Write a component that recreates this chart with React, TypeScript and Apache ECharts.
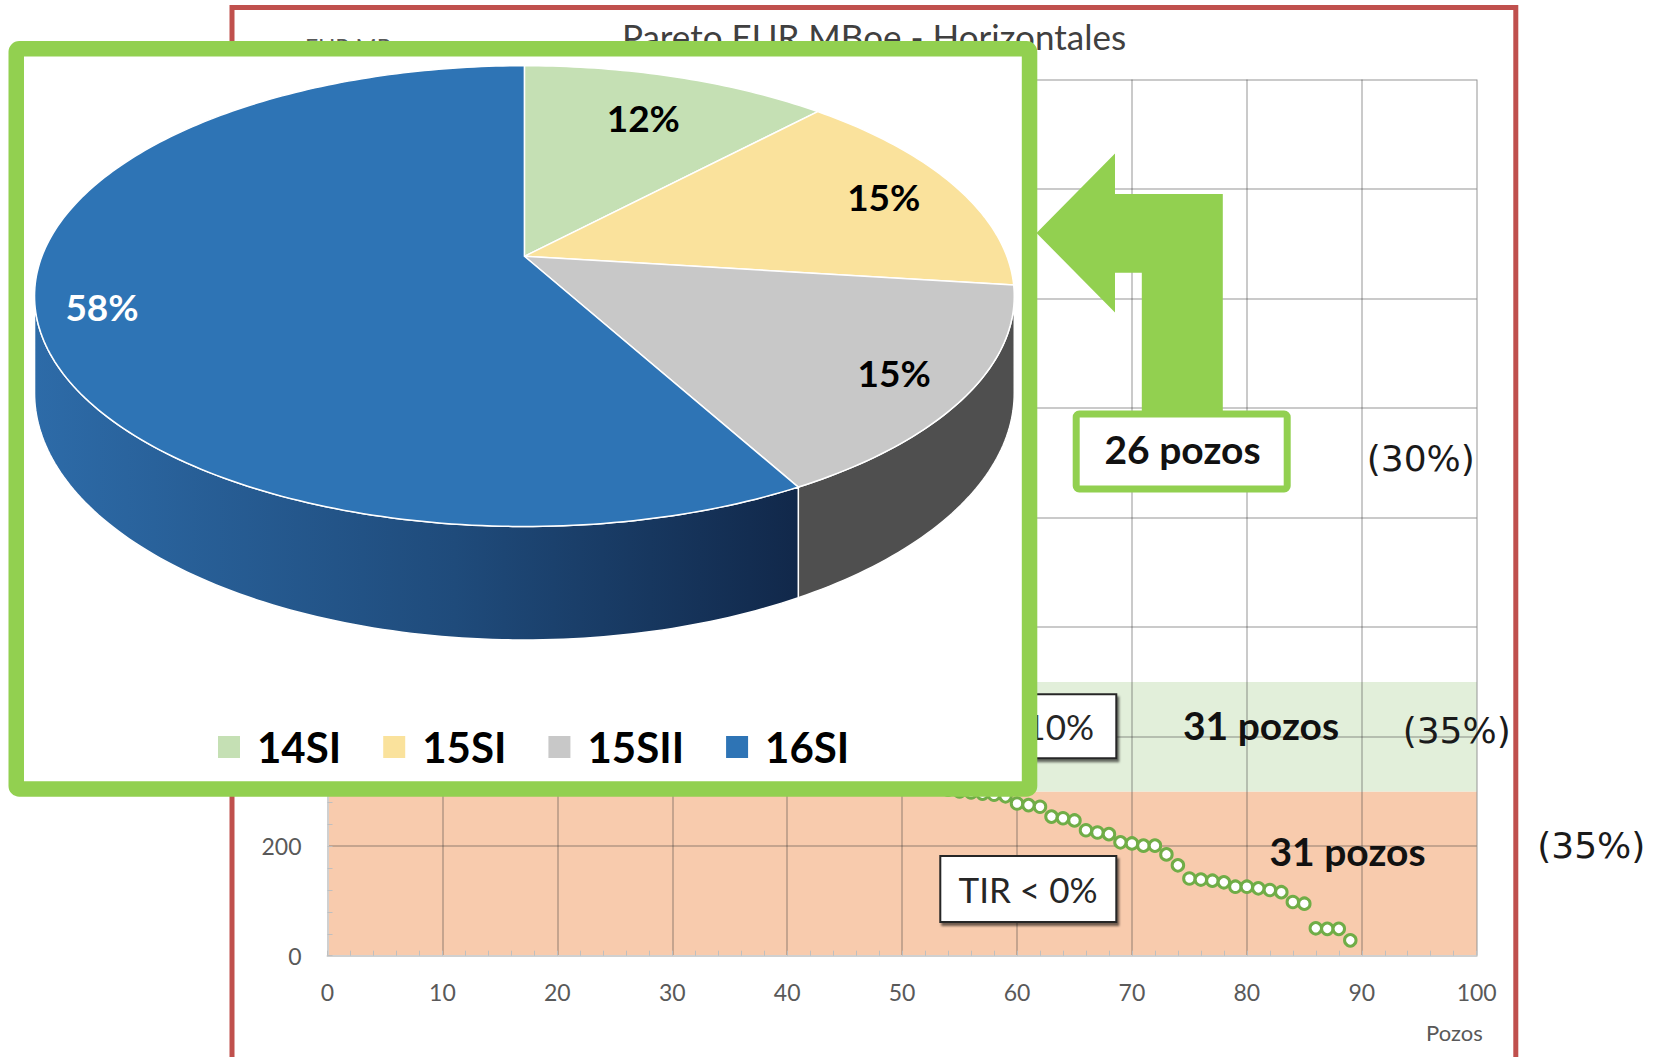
import React, { useEffect, useRef } from "react";
import * as echarts from "echarts";

// ---------- texts ----------
const chartTitle = "Pareto EUR MBoe - Horizontales";
const yAxisTitle = "EUR MBoe";
const xAxisTitle = "Pozos";

// ---------- axes ----------
const xMin = 0;
const xMax = 100;
const xInterval = 10;
const yMin = 0;
const yMax = 1600;
const yInterval = 200;
// y tick labels left uncovered by the pie panel in the picture
const yLabelsShown = [0, 200];

// ---------- Pareto data: EUR (MBoe) per well, ranked 1..89 ----------
const eurMBoe = [
  1480, 1330, 1220, 1150, 1085, 1030, 975, 930, 890, 855,
  820, 790, 765, 742, 720, 700, 680, 662, 645, 628,
  600, 585, 570, 556, 540, 522, 496, 488, 480, 472,
  464, 456, 448, 440, 432, 424, 416, 408, 400, 392,
  385, 378, 371, 364, 357, 350, 343, 337, 331, 325,
  319, 313, 308, 303, 300, 298, 296, 294, 291, 278,
  275, 272, 254, 251, 247, 229, 225, 222, 207, 205,
  201, 201, 185, 165, 141, 139, 137, 134, 126, 126,
  123, 120, 116, 98, 95, 50, 49, 49, 28,
];

// ---------- TIR bands (EUR ranges) ----------
const bandRanges = [
  [0, 300],
  [300, 500],
];
const bandColors = ["#F8CBAD", "#E2EFDA"];

// ---------- pie ----------
const pieCategories = ["14SI", "15SI", "15SII", "16SI"];
const pieShares = [12, 15, 15, 58];
const pieColors = ["#C5E0B4", "#FAE29C", "#C8C8C8", "#2E74B5"];
const pieWallColors = [["#9BBF86", "#9BBF86", "#9BBF86"], ["#C9B46E", "#C9B46E", "#C9B46E"], ["#4F4F4F", "#4F4F4F", "#4F4F4F"], ["#2D6BA8", "#1F4B7B", "#11284A"]];
const pieLabelColors = ["#000000", "#000000", "#000000", "#FFFFFF"];
const pieLabelRadius = [0.75, 0.83, 0.85, 0.87];

// ---------- annotations ----------
const groupCounts = ["26 pozos", "31 pozos", "31 pozos"];
const groupShares = ["(30%)", "(35%)", "(35%)"];
const tirLabels = ["TIR < 10%", "TIR < 0%"];

// ---------- pie geometry (perspective ellipse) ----------
const PIE = { cx: 524.4, cy: 256.3, rx: 482.5, ry: 223.5, k: 0.1727, depth: 93.9 };

function pieProj(t: number, r: number, down: number): number[] {
  const u = r * Math.sin(t);
  const w = r * Math.cos(t);
  const s = 1 / (1 + PIE.k * w);
  return [PIE.cx + PIE.rx * u * s, PIE.cy - PIE.ry * w * s + down * s];
}

function arcPts(a0: number, a1: number, down: number): number[][] {
  const n = Math.max(2, Math.ceil(((a1 - a0) * 180) / Math.PI));
  const pts: number[][] = [];
  for (let j = 0; j <= n; j++) {
    const t = a0 + ((a1 - a0) * j) / n;
    pts.push(pieProj(t, 1, down));
  }
  return pts;
}

const FONT_C = "Lato, 'Open Sans', sans-serif";
const FONT_G = "'DejaVu Sans', sans-serif";

function makePieSeries(i: number) {
  return {
    type: "custom",
    name: pieCategories[i],
    coordinateSystem: "none",
    z: 110,
    silent: true,
    itemStyle: { color: pieColors[i] },
    data: [pieShares[i]],
    renderItem: (params: any, api: any) => {
      const total = pieShares.reduce((a, b) => a + b, 0);
      let before = 0;
      for (let j = 0; j < i; j++) before += pieShares[j];
      const v = api.value(0);
      const a0 = (before / total) * Math.PI * 2;
      const a1 = ((before + v) / total) * Math.PI * 2;
      const children: any[] = [];
      const tR = Math.acos(-PIE.k);
      const tL = Math.PI * 2 - tR;
      const s = Math.max(a0, tR);
      const e = Math.min(a1, tL);
      if (s < e) {
        const top = arcPts(s, e, 0);
        const bot = arcPts(s, e, PIE.depth).reverse();
        const wc = pieWallColors[i];
        children.push({
          type: "polygon",
          z2: 1,
          shape: { points: top.concat(bot) },
          style: {
            fill: new echarts.graphic.LinearGradient(0, 0, 1, 0, [
              { offset: 0, color: wc[0] },
              { offset: 0.55, color: wc[1] },
              { offset: 1, color: wc[2] },
            ]),
            stroke: "#FFFFFF",
            lineWidth: 1.5,
          },
        });
      }
      children.push({
        type: "polygon",
        z2: 5,
        shape: { points: [[PIE.cx, PIE.cy]].concat(arcPts(a0, a1, 0)) },
        style: { fill: pieColors[i], stroke: "#FFFFFF", lineWidth: 1.5 },
      });
      const mid = (a0 + a1) / 2;
      const lp = pieProj(mid, pieLabelRadius[i], 0);
      children.push({
        type: "text",
        z2: 10,
        x: lp[0],
        y: lp[1],
        style: {
          text: Math.round((v / total) * 100) + "%",
          fill: pieLabelColors[i],
          fontSize: 37,
          fontWeight: "bold",
          fontFamily: FONT_C,
          align: "center",
          verticalAlign: "middle",
        },
      });
      return { type: "group", children };
    },
  };
}

function txt(text: string, x: number, y: number, opts: any, z: number) {
  return {
    type: "text",
    x,
    y,
    z,
    silent: true,
    style: {
      text,
      fill: opts.fill || "#000",
      fontSize: opts.fontSize,
      fontWeight: opts.fontWeight || "normal",
      fontFamily: opts.fontFamily || FONT_C,
      align: opts.align || "center",
      textAlign: opts.align || "center",
      verticalAlign: opts.verticalAlign || "middle",
      textVerticalAlign: opts.verticalAlign || "middle",
    },
  };
}

export default function App() {
  const ref = useRef<HTMLDivElement>(null);
  useEffect(() => {
    if (!ref.current) return;
    const chart = echarts.init(ref.current, undefined, { renderer: "svg" });
    const gridColor = "rgba(60,60,60,0.36)";
    const option: any = {
      animation: false,
      backgroundColor: "#FFFFFF",
      title: {
        text: chartTitle,
        left: 622,
        top: 18,
        padding: 0,
        textStyle: { fontFamily: FONT_C, fontSize: 35, fontWeight: "normal", color: "#404040" },
      },
      legend: {
        data: pieCategories,
        left: 218,
        top: 726,
        padding: 0,
        icon: "rect",
        itemWidth: 22,
        itemHeight: 22,
        itemGap: 42,
        z: 120,
        selectedMode: false,
        textStyle: { fontFamily: FONT_C, fontWeight: "bold", fontSize: 42, color: "#000", padding: [0, 0, 0, 12] },
      },
      grid: { left: 327.5, right: 184.3, top: 79.5, bottom: 101.3, containLabel: false },
      xAxis: {
        type: "value",
        min: xMin,
        max: xMax,
        interval: xInterval,
        z: 2,
        name: xAxisTitle,
        nameLocation: "end",
        nameGap: 6,
        nameTextStyle: { fontFamily: FONT_C, fontSize: 22, color: "#595959", align: "right", verticalAlign: "top", padding: [66, 0, 0, 0] },
        axisLine: { show: true, lineStyle: { color: "#D0D0D0", width: 2 } },
        axisTick: { show: true, inside: true, length: 5, lineStyle: { color: "#BFBFBF" } },
        minorTick: { show: true, splitNumber: 5, length: 5, lineStyle: { color: "#BFBFBF" } },
        splitLine: { show: true, lineStyle: { color: gridColor, width: 1.5 } },
        axisLabel: { fontFamily: FONT_C, fontSize: 23, color: "#595959", margin: 25 },
      },
      yAxis: {
        type: "value",
        min: yMin,
        max: yMax,
        interval: yInterval,
        z: 2,
        axisLine: { show: true, lineStyle: { color: "#D0D0D0", width: 2 } },
        axisTick: { show: true, inside: true, length: 5, lineStyle: { color: "#BFBFBF" } },
        minorTick: { show: true, splitNumber: 5, length: 5, lineStyle: { color: "#BFBFBF" } },
        splitLine: { show: true, lineStyle: { color: gridColor, width: 1.5 } },
        axisLabel: {
          fontFamily: FONT_C,
          fontSize: 23,
          color: "#595959",
          margin: 26,
          formatter: (v: number) => (yLabelsShown.indexOf(v) >= 0 ? String(v) : ""),
        },
      },
      series: [
        {
          type: "custom",
          name: "bands",
          z: 1,
          silent: true,
          data: bandRanges.map((r, i) => [xMin, r[0], xMax, r[1], i]),
          encode: { x: [0, 2], y: [1, 3] },
          renderItem: (params: any, api: any) => {
            const p0 = api.coord([api.value(0), api.value(1)]);
            const p1 = api.coord([api.value(2), api.value(3)]);
            return {
              type: "rect",
              shape: { x: p0[0], y: p1[1], width: p1[0] - p0[0], height: p0[1] - p1[1] },
              style: { fill: bandColors[api.value(4)] },
            };
          },
        },
        {
          type: "scatter",
          name: "EUR",
          z: 3,
          symbol: "circle",
          symbolSize: 11.5,
          itemStyle: { color: "#FFFFFF", borderColor: "#70AD47", borderWidth: 3, opacity: 1 },
          data: eurMBoe.map((v, i) => [i + 1, v]),
        },
        ...pieCategories.map((_, i) => makePieSeries(i)),
      ],
      graphic: [
        // outer red frame
        {
          type: "rect",
          z: 90,
          silent: true,
          shape: { x: 232, y: 7.5, width: 1283.8, height: 1200 },
          style: { fill: "none", stroke: "#C0504D", lineWidth: 5 },
        },
        // y axis title (mostly hidden)
        txt(yAxisTitle, 305, 35, { fontSize: 23, fill: "#595959", align: "left", verticalAlign: "top" }, 5),
        // TIR boxes
        {
          type: "rect",
          z: 50,
          silent: true,
          shape: { x: 940.3, y: 694.3, width: 176, height: 64 },
          style: { fill: "#FFFFFF", stroke: "#262626", lineWidth: 2, shadowColor: "rgba(0,0,0,0.55)", shadowOffsetX: 2, shadowOffsetY: 3, shadowBlur: 2 },
        },
        txt(tirLabels[0], 1094, 726, { fontSize: 35, fill: "#262626", align: "right" }, 51),
        {
          type: "rect",
          z: 50,
          silent: true,
          shape: { x: 940.3, y: 856, width: 176, height: 66 },
          style: { fill: "#FFFFFF", stroke: "#262626", lineWidth: 2, shadowColor: "rgba(0,0,0,0.55)", shadowOffsetX: 2, shadowOffsetY: 3, shadowBlur: 2 },
        },
        txt(tirLabels[1], 1028, 889, { fontSize: 35, fill: "#262626" }, 51),
        // group counts
        txt(groupCounts[1], 1261, 725, { fontSize: 39, fontWeight: "bold", fill: "#111" }, 50),
        txt(groupCounts[2], 1347.5, 851, { fontSize: 39, fontWeight: "bold", fill: "#111" }, 50),
        // group shares
        txt(groupShares[0], 1420.8, 458, { fontSize: 36, fontFamily: FONT_G, fill: "#1A1A1A" }, 50),
        txt(groupShares[1], 1456.7, 730, { fontSize: 36, fontFamily: FONT_G, fill: "#1A1A1A" }, 50),
        txt(groupShares[2], 1591.3, 845.5, { fontSize: 36, fontFamily: FONT_G, fill: "#1A1A1A" }, 50),
        // green pie frame
        {
          type: "rect",
          z: 100,
          silent: true,
          shape: { x: 16.25, y: 48.75, width: 1013.3, height: 740.2, r: 3 },
          style: { fill: "#FFFFFF", stroke: "#92D050", lineWidth: 15.5 },
        },
        // bent arrow
        {
          type: "polygon",
          z: 100,
          silent: true,
          shape: {
            points: [
              [1036.5, 233],
              [1115, 153.6],
              [1115, 194],
              [1222.8, 194],
              [1222.8, 412],
              [1141.8, 412],
              [1141.8, 272.8],
              [1115, 272.8],
              [1115, 312.5],
            ],
          },
          style: { fill: "#92D050" },
        },
        // 26 pozos box
        {
          type: "rect",
          z: 100,
          silent: true,
          shape: { x: 1076.2, y: 414, width: 211, height: 75, r: 3 },
          style: { fill: "#FFFFFF", stroke: "#92D050", lineWidth: 7 },
        },
        txt(groupCounts[0], 1182.5, 449, { fontSize: 39, fontWeight: "bold", fill: "#111" }, 101),
      ],
    };
    chart.setOption(option);
    return () => chart.dispose();
  }, []);
  return (
    <div
      ref={ref}
      style={{ position: "absolute", left: 0, top: 0, width: "1661px", height: "1057px", background: "#FFFFFF" }}
    />
  );
}
